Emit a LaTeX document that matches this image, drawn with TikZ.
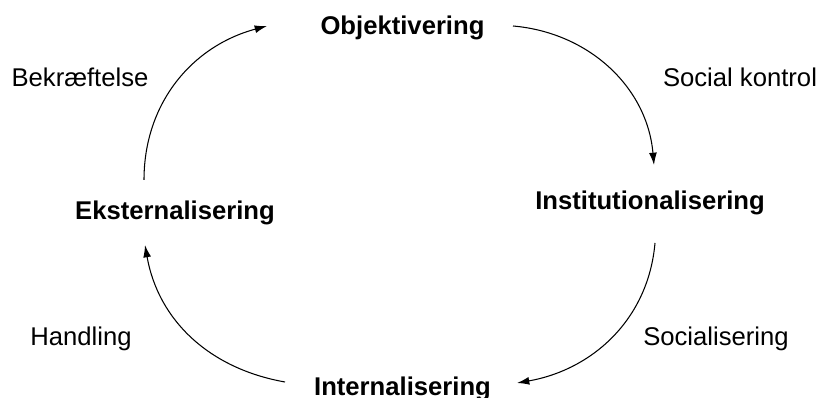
\documentclass[tikz,border=0pt]{standalone}
\usepackage{fontspec}
\setmainfont{Liberation Sans}
\usetikzlibrary{arrows.meta}

\begin{document}
\begin{tikzpicture}[
            x=0.02cm,y=0.02cm,
            phase/.style={font=\fontsize{14.6}{17}\selectfont\bfseries,anchor=base,inner sep=0},
            lab/.style={font=\fontsize{14.6}{17}\selectfont,anchor=base,inner sep=0},
            cycle/.style={draw,->,line width=0.6pt,>={Latex[length=7pt,width=4.5pt]}}
          ]
          \useasboundingbox (0,0) rectangle (822,398);

          %phases
          \node[phase] (obj) at (402.5,363) {Objektivering};
          \node[phase] (inst) at (650,188) {Institutionalisering};
          \node[phase] (int) at (402.5,2.5) {Internalisering};
          \node[phase] (eks) at (175,178) {Eksternalisering};

          %labels
          \node[lab] (bek) at (80,311) {Bekræftelse};
          \node[lab] (kon) at (740,311) {Social kontrol};
          \node[lab] (soc) at (716,52) {Socialisering};
          \node[lab] (han) at (81,52) {Handling};

          %cycle
          \path[cycle] ([shift={(-31,40)}]eks.base) to[out=90,in=195] ([shift={(-135.5,9)}]obj.base);
          \path[cycle] ([shift={(110.5,9)}]obj.base) to[out=-5,in=95] ([shift={(4,45)}]inst.base);
          \path[cycle] ([shift={(5,-33)}]inst.base) to[out=-95,in=10] ([shift={(114.5,12.5)}]int.base);
          \path[cycle] ([shift={(-117.5,13.5)}]int.base) to[out=170,in=-80] ([shift={(-30,-25)}]eks.base);

      \end{tikzpicture}
\end{document}
